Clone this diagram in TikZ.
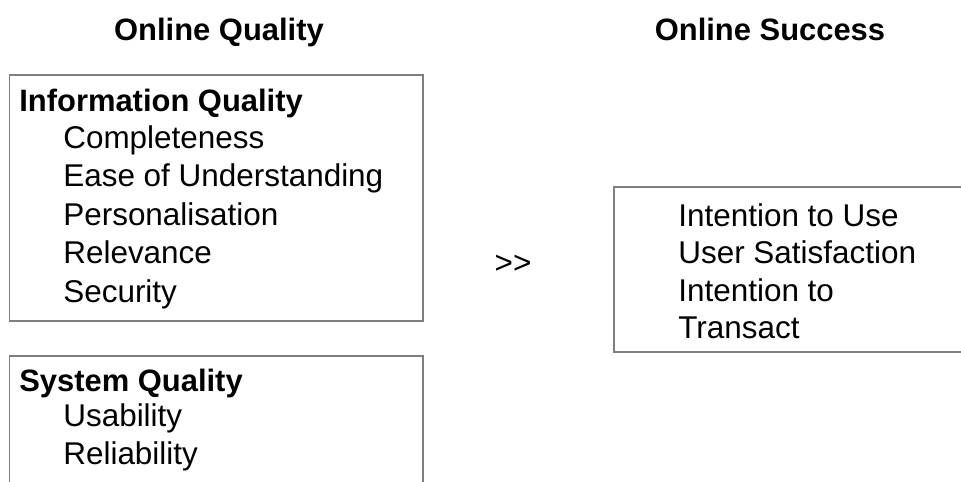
\documentclass[tikz,border=0pt]{standalone}
\usepackage{fontspec}
\setmainfont{Liberation Sans}
\definecolor{boxgray}{HTML}{7F7F7F}

\begin{document}
\begin{tikzpicture}[x=0.02cm,y=-0.02cm,
  box/.style={draw=boxgray,line width=0.8pt},
  head/.style={anchor=base,inner sep=0pt,font=\bfseries\fontsize{17.6}{21}\selectfont},
  group/.style={anchor=base west,inner sep=0pt,font=\bfseries\fontsize{17.6}{21}\selectfont},
  item/.style={anchor=base west,inner sep=0pt,font=\fontsize{17.9}{21}\selectfont}]
  \useasboundingbox (0,0) rectangle (961,481);
  % column headings
  \node[head] (qualityhead) at (219,40) {Online Quality};
  \node[head] (successhead) at (770,40) {Online Success};
  % boxes (partly beyond the page edge)
  \draw[box] (9.5,75) rectangle (423,321);
  \draw[box] (9.5,356) rectangle (423,530);
  \draw[box] (614,187) rectangle (1010,352);
  % information quality
  \node[group] (infoq) at (19,111) {Information Quality};
  \node[item] (complete) at (63,148) {Completeness};
  \node[item] (ease) at (63,186.5) {Ease of Understanding};
  \node[item] (personal) at (63,225) {Personalisation};
  \node[item] (relev) at (63,263.5) {Relevance};
  \node[item] (secur) at (63,302) {Security};
  % system quality
  \node[group] (sysq) at (19,391) {System Quality};
  \node[item] (usab) at (63,426) {Usability};
  \node[item] (reliab) at (63,464) {Reliability};
  % relation
  \node[item,anchor=center] (gives) at (513,264) {{>}{>}};
  % online success
  \node[item] (intuse) at (678,226) {Intention to Use};
  \node[item] (usersat) at (678,263) {User Satisfaction};
  \node[item] (inttrans) at (678,301) {Intention to};
  \node[item] (transact) at (678,338) {Transact};
\end{tikzpicture}
\end{document}
